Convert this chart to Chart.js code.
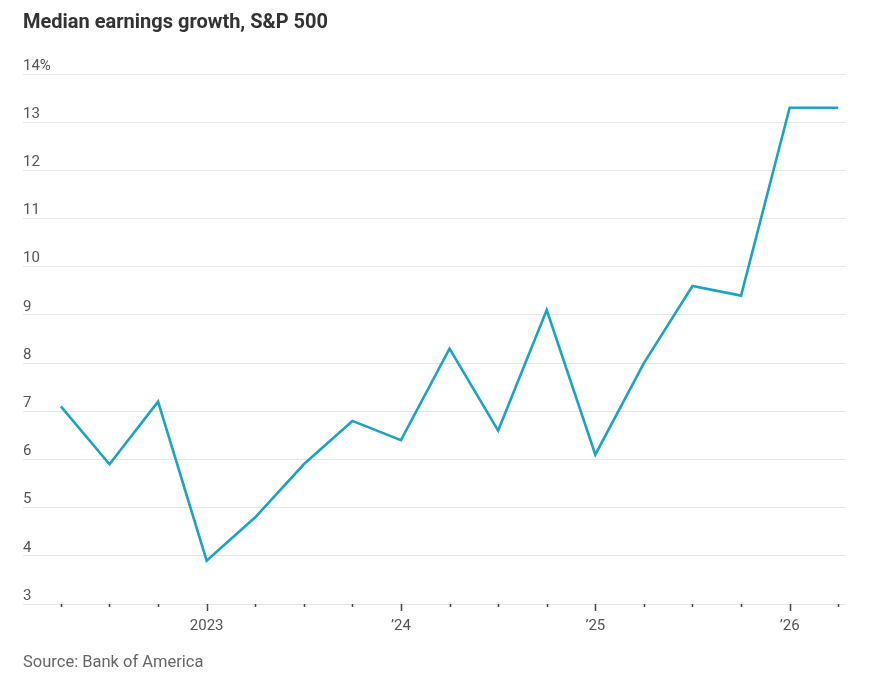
<!DOCTYPE html>
<html>
<head>
<meta charset="utf-8">
<script src="https://cdn.jsdelivr.net/npm/chart.js@4.4.1/dist/chart.umd.min.js"></script>
<style>
  html, body { margin: 0; padding: 0; background: #fff; }
  #wrap { position: relative; width: 879px; height: 691px; }
  #title { position: absolute; left: 23px; top: 9px; font: bold 20px Roboto, "Noto Sans", sans-serif; color: #333; }
  #source { position: absolute; left: 23px; top: 652px; font: 16.5px Roboto, "Noto Sans", sans-serif; color: #666; }
  canvas { position: absolute; left: 0; top: 0; }
</style>
</head>
<body>
<div id="wrap">
  <canvas id="c" width="879" height="691"></canvas>
  <div id="title">Median earnings growth, S&amp;P 500</div>
  <div id="source">Source: Bank of America</div>
</div>
<script>
// Categories: quarters
const quarters = ['2022 Q2','2022 Q3','2022 Q4','2023 Q1','2023 Q2','2023 Q3','2023 Q4','2024 Q1','2024 Q2','2024 Q3','2024 Q4','2025 Q1','2025 Q2','2025 Q3','2025 Q4','2026 Q1','2026 Q2'];
// Median earnings growth, %
const growth = [7.1, 5.9, 7.2, 3.9, 4.8, 5.9, 6.8, 6.4, 8.3, 6.6, 9.1, 6.1, 8.0, 9.6, 9.4, 13.3, 13.3];
// X tick labels (by quarter index)
const xTickLabels = ['', '', '', '2023', '', '', '', '\u201924', '', '', '', '\u201925', '', '', '', '\u201926', ''];
// Y tick values
const yTicks = [3, 4, 5, 6, 7, 8, 9, 10, 11, 12, 13, 14];

const points = growth.map((v, i) => ({ x: i, y: v }));
const quarterIdx = quarters.map((q, i) => i);

const tickMarks = {
  id: 'tickMarks',
  afterDraw(chart) {
    const xs = chart.scales.x;
    const ctx = chart.ctx;
    ctx.save();
    ctx.strokeStyle = '#444';
    ctx.lineWidth = 1.5;
    xs.ticks.forEach(t => {
      const px = Math.round(xs.getPixelForValue(t.value)) + 0.5;
      const len = xTickLabels[t.value] ? 7 : 3;
      ctx.beginPath();
      ctx.moveTo(px, xs.top);
      ctx.lineTo(px, xs.top + len);
      ctx.stroke();
    });
    ctx.restore();
  }
};

new Chart(document.getElementById('c'), {
  type: 'line',
  data: {
    datasets: [{
      data: points,
      borderColor: '#1ba3c0',
      borderWidth: 2.6,
      pointRadius: 0,
      tension: 0,
      borderJoinStyle: 'miter',
      fill: false
    }]
  },
  options: {
    responsive: false,
    animation: false,
    devicePixelRatio: 1,
    layout: { padding: { left: 23, right: 33, top: 74, bottom: 47 } },
    plugins: { legend: { display: false }, tooltip: { enabled: false }, title: { display: false } },
    scales: {
      x: {
        type: 'linear',
        min: -0.78,
        max: 16.16,
        afterBuildTicks: s => { s.ticks = quarterIdx.map(v => ({ value: v })); },
        afterFit: s => { s.height = 40; },
        border: { display: false },
        grid: { display: false, drawTicks: false },
        ticks: {
          autoSkip: false,
          maxRotation: 0,
          padding: 13,
          color: '#555',
          font: { family: 'Roboto', size: 15 },
          callback: v => xTickLabels[v] || ''
        }
      },
      y: {
        min: 3,
        max: 14,
        afterBuildTicks: s => { s.ticks = yTicks.map(v => ({ value: v })); },
        afterFit: s => { s.width = 0; },
        border: { display: false },
        grid: { color: '#e6e6e6', lineWidth: 1, drawTicks: false },
        ticks: {
          mirror: true,
          padding: 0,
          labelOffset: -8,
          color: '#555',
          font: { family: 'Roboto', size: 15 },
          callback: v => v === 14 ? '14%' : String(v)
        }
      }
    }
  },
  plugins: [tickMarks]
});
</script>
</body>
</html>
